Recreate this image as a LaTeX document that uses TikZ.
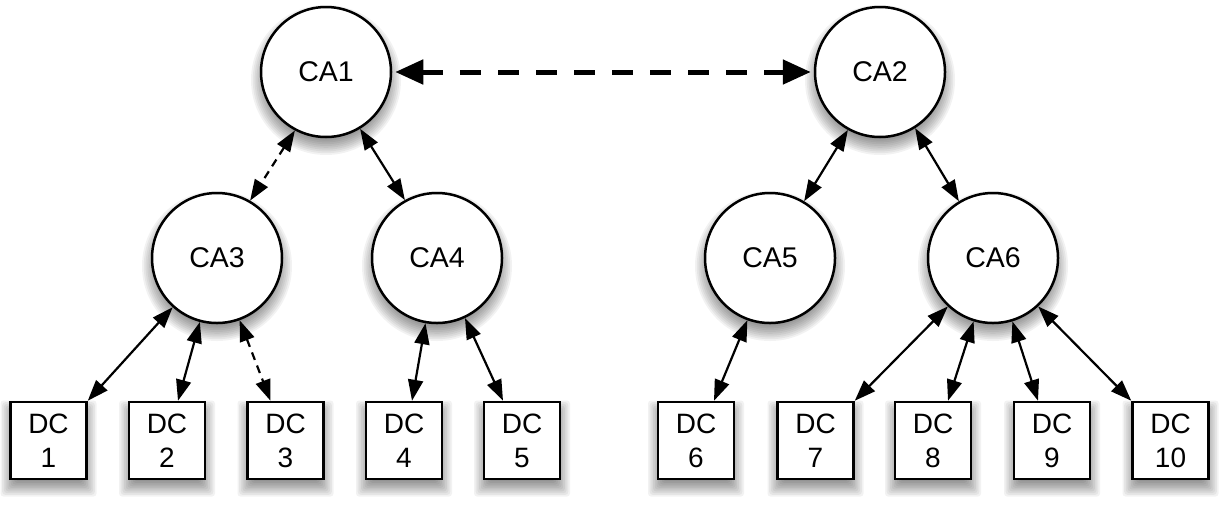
\documentclass[tikz,border=0pt]{standalone}
\usepackage{fontspec}
\setmainfont{Liberation Sans}
\usetikzlibrary{arrows.meta}
\pgfdeclarelayer{background}
\pgfsetlayers{background,main}
\begin{document}
\begin{tikzpicture}[x=1pt,y=-1pt,
  ca/.style={circle,draw,line width=2.5pt,fill=white,minimum size=130pt,inner sep=0pt,font=\fontsize{28.5}{34}\selectfont},
  dc/.style={rectangle,draw,line width=2.5pt,fill=white,minimum width=76pt,minimum height=77pt,inner sep=0pt,align=center,font=\fontsize{28}{34}\selectfont},
  link/.style={line width=2.2pt,{Triangle[length=21pt,width=15pt]}-{Triangle[length=21pt,width=15pt]}},
  dlink/.style={link,dash pattern=on 8pt off 6pt},
  biglink/.style={line width=5pt,dash pattern=on 21pt off 17pt,shorten <=3pt,shorten >=3pt,{Triangle[length=28pt,width=24pt]}-{Triangle[length=28pt,width=24pt]}},
  shad/.style={black,opacity=0.05}
]
\useasboundingbox (0,0) rectangle (1222,512);

\node[ca] (CA1) at (326,72) {CA1};
\node[ca] (CA2) at (880,72) {CA2};
\node[ca] (CA3) at (217,258) {CA3};
\node[ca] (CA4) at (437,258) {CA4};
\node[ca] (CA5) at (770,258) {CA5};
\node[ca] (CA6) at (993,258) {CA6};

\node[dc] (DC1) at (48.5,440.5) {DC\\1};
\node[dc] (DC2) at (167,440.5) {DC\\2};
\node[dc] (DC3) at (285.5,440.5) {DC\\3};
\node[dc] (DC4) at (404,440.5) {DC\\4};
\node[dc] (DC5) at (522,440.5) {DC\\5};
\node[dc] (DC6) at (696,440.5) {DC\\6};
\node[dc] (DC7) at (815.5,440.5) {DC\\7};
\node[dc] (DC8) at (933,440.5) {DC\\8};
\node[dc] (DC9) at (1052,440.5) {DC\\9};
\node[dc] (DC10) at (1170.5,440.5) {DC\\10};

\begin{pgfonlayer}{background}
\fill[white] (0,0) rectangle (1222,512);
\foreach \n in {CA1,CA2,CA3,CA4,CA5,CA6}{
  \foreach \k in {1,...,10}{
    \fill[shad] ([yshift=-8pt]\n.center) circle[radius={57+1.8*\k}];
  }
}
\foreach \n in {DC1,DC2,DC3,DC4,DC5,DC6,DC7,DC8,DC9,DC10}{
  \foreach \k in {1,...,10}{
    \fill[shad,shift={(\n.center)},rounded corners=3pt] ({-31-1.7*\k},{-31-1.7*\k+8}) rectangle ({31+1.7*\k},{31+1.7*\k+8});
  }
}
\end{pgfonlayer}

\draw[biglink] (CA1.east) -- (CA2.west);
\draw[dlink] (CA1.-118) -- (CA3.60);
\draw[link] (CA1.-59) -- (CA4.119);
\draw[link] (CA2.-119) -- (CA5.59);
\draw[link] (CA2.-58) -- (CA6.121);

\draw[link] (CA3.-132) -- (DC1.north east);
\draw[link] (CA3.-105) -- ([xshift=11pt]DC2.north);
\draw[dlink] (CA3.-70) -- ([xshift=-15pt]DC3.north);
\draw[link] (CA4.-100) -- ([xshift=8pt]DC4.north);
\draw[link] (CA4.-65) -- ([xshift=-19pt]DC5.north);
\draw[link] (CA5.-110) -- ([xshift=18pt]DC6.north);
\draw[link] (CA6.-133) -- (DC7.north east);
\draw[link] (CA6.-107) -- ([xshift=15pt]DC8.north);
\draw[link] (CA6.-73) -- ([xshift=-14pt]DC9.north);
\draw[link] (CA6.-47) -- (DC10.north west);
\end{tikzpicture}
\end{document}
